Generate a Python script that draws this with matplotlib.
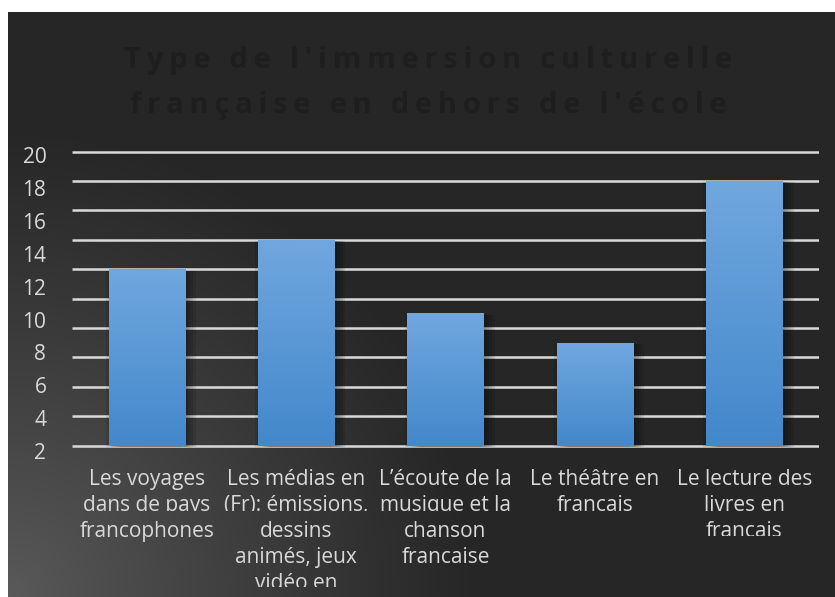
import numpy as np
import matplotlib
matplotlib.use('Agg')
import matplotlib.pyplot as plt
import matplotlib.patheffects as pe
from matplotlib.transforms import Bbox

# données
categories = [
    ["Les voyages", "dans de pays", "francophones"],
    ["Les médias en", "(Fr): émissions,", "dessins", "animés, jeux", "vidéo en"],
    ["L\u2019écoute de la", "musique et la", "chanson", "francaise"],
    ["Le théâtre en", "francais"],
    ["Le lecture des", "livres en", "francais"],
]
values = [12, 14, 9, 7, 18]
grid_values = list(range(0, 21, 2))
tick_labels = ["2", "4", "6", "8", "10", "12", "14", "16", "18", "20"]
title = "Type de l'immersion culturelle\nfrançaise en dehors de l'école"

W, H = 835, 597
fig = plt.figure(figsize=(W / 100, H / 100), dpi=100, facecolor='white')

# fond dégradé (plus clair en bas à gauche)
bg = fig.add_axes([8 / W, 0, (W - 8) / W, (H - 12) / H])
bg.set_axis_off()
yy, xx = np.mgrid[0:585, 0:827]
dist = np.sqrt(xx ** 2 + (584 - yy) ** 2)
t = np.clip(dist / 470.0, 0, 1) ** 0.9
dark = np.array([0x26, 0x26, 0x26]) / 255
light = np.array([0x5a, 0x5a, 0x5a]) / 255
img = light[None, None, :] * (1 - t[..., None]) + dark[None, None, :] * t[..., None]
bg.imshow(img, aspect='auto', extent=(0, 1, 0, 1))
bg.set_xlim(0, 1)
bg.set_ylim(0, 1)

# zone du graphique
ax = fig.add_axes([72 / W, 1 - 453 / H, (819 - 72) / W, (453 - 147.3) / H])
ax.patch.set_alpha(0)
for s in ax.spines.values():
    s.set_visible(False)

ax.hlines(grid_values, -0.5, len(values) - 0.5, colors='#dadada', linewidth=1.8, zorder=1)

x = np.arange(len(values))
shadow = [pe.SimplePatchShadow(offset=(o, -1), shadow_rgbFace='black', alpha=0.10) for o in (2, 4, 6, 8)]
shadow.append(pe.SimplePatchShadow(offset=(-2, -1), shadow_rgbFace='black', alpha=0.10))
bars = ax.bar(x, values, width=0.51, color='#5a9bdc', zorder=2,
              path_effects=shadow + [pe.Normal()])
grad = np.linspace(0, 1, 100)[:, None]
top_c = np.array([0x70, 0xa7, 0xdf]) / 255
bot_c = np.array([0x43, 0x88, 0xcb]) / 255
for b in bars:
    x0, w, h = b.get_x(), b.get_width(), b.get_height()
    g = top_c[None, None, :] * (1 - grad[..., None]) + bot_c[None, None, :] * grad[..., None]
    im = ax.imshow(g, extent=(x0, x0 + w, 0, h), aspect='auto', zorder=3)
    im.set_clip_path(b)
ax.set_xlim(-0.5, len(values) - 0.5)
ax.set_ylim(-0.5, 20.3)

# étiquettes de l'axe des y (décalées comme dans l'original)
ax.set_xticks([])
ax.set_yticks(np.linspace(-0.35, 19.75, len(tick_labels)))
ax.set_yticklabels(tick_labels, fontsize=15, color='#d9d9d9', family='Open Sans')
ax.tick_params(axis='y', length=0, pad=18.5)

# étiquettes des catégories, ligne par ligne avec découpage
first_base = 485
step = 25.9
clips = {(0, 1): 511, (1, 1): 511, (2, 1): 511, (3, 1): 511, (1, 4): 587, (4, 2): 536}
for i, lines in enumerate(categories):
    xc = ax.transData.transform((x[i], 0))[0]
    for j, line in enumerate(lines):
        yb = first_base + j * step
        txt = fig.text(xc / W, 1 - yb / H, line, ha='center', va='baseline',
                       fontsize=15, color='#d9d9d9', family='Open Sans')
        if (i, j) in clips:
            cy = clips[(i, j)]
            txt.set_clip_box(Bbox.from_extents(xc - 120, H - cy, xc + 120, H - yb + 40))
            txt.set_clip_on(True)

# titre (presque invisible)
sp = '\u200a\u200a'
tlines = title.split('\n')
for k, tl in enumerate(tlines):
    spaced = sp.join(tl)
    fig.text(428 / W, 1 - (68 + k * 45) / H, spaced, ha='center', va='baseline',
             fontsize=21, fontweight='bold', color='#1e1e1e', family='Open Sans')

fig.savefig('out.png', dpi=100, facecolor='white')
